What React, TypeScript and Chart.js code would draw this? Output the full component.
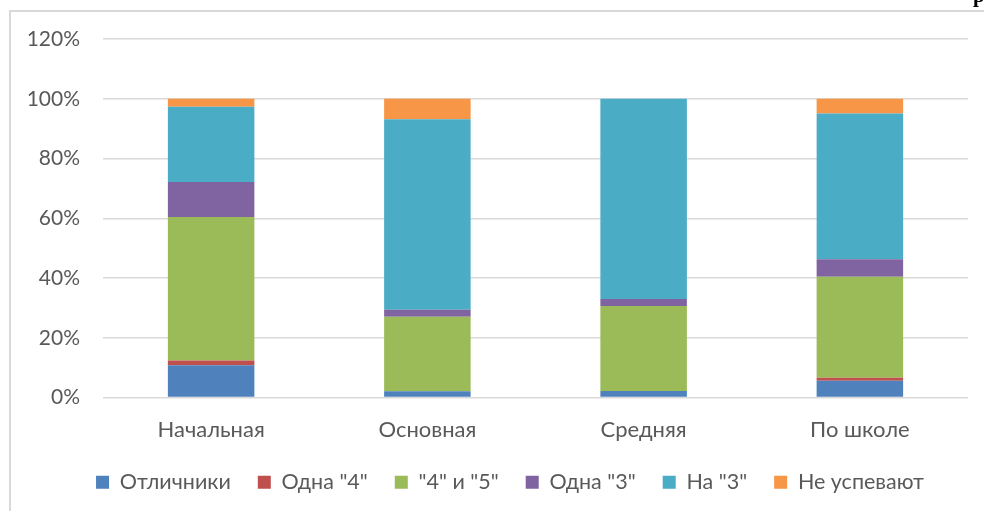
import React, { useEffect, useRef } from "react";
import { Chart, registerables } from "chart.js";

Chart.register(...registerables);

const categories = ["Начальная", "Основная", "Средняя", "По школе"];
const seriesNames = ["Отличники", "Одна \"4\"", "\"4\" и \"5\"", "Одна \"3\"", "На \"3\"", "Не успевают"];
const excellent = [10.8, 2.1, 2.2, 5.6];
const oneFour = [1.6, 0, 0, 1.0];
const fourFive = [48.0, 24.9, 28.4, 33.8];
const oneThree = [11.7, 2.4, 2.4, 5.9];
const onlyThree = [25.2, 63.7, 67.0, 48.8];
const failing = [2.7, 6.9, 0, 4.9];
const seriesColors = ["#4F81BD", "#C0504D", "#9BBB59", "#8064A2", "#4BACC6", "#F79646"];
const yTicks = [0, 20, 40, 60, 80, 100, 120];

const legendShift = {
  id: "legendShift",
  afterLayout(chart: any) {
    if (chart.legend) {
      chart.legend.left += 21;
      chart.legend.right += 21;
    }
  },
};

export default function App() {
  const ref = useRef<HTMLCanvasElement | null>(null);
  useEffect(() => {
    if (!ref.current) return;
    const values = [excellent, oneFour, fourFive, oneThree, onlyThree, failing];
    const chart = new Chart(ref.current, {
      type: "bar",
      data: {
        labels: categories,
        datasets: values.map((d, i) => ({
          label: seriesNames[i],
          data: d,
          backgroundColor: seriesColors[i],
          borderWidth: 0,
          categoryPercentage: 1,
          barPercentage: 0.4,
        })),
      },
      plugins: [legendShift],
      options: {
        animation: false,
        responsive: false,
        maintainAspectRatio: false,
        layout: { padding: { left: 10, right: 16, top: 39, bottom: 8 } },
        plugins: {
          tooltip: { enabled: false },
          legend: {
            position: "bottom",
            labels: {
              boxWidth: 13,
              boxHeight: 13,
              padding: 27,
              color: "#595959",
              font: { family: "Lato", size: 21.5 },
            },
          },
        },
        scales: {
          x: {
            stacked: true,
            grid: { display: false, drawTicks: false },
            border: { display: false },
            ticks: { color: "#595959", font: { family: "Lato", size: 22 }, padding: 19 },
            afterFit: (axis: any) => {
              axis.height = 47;
            },
          },
          y: {
            stacked: true,
            min: yTicks[0],
            max: yTicks[yTicks.length - 1],
            afterBuildTicks: (axis: any) => {
              axis.ticks = yTicks.map((v) => ({ value: v }));
            },
            afterFit: (axis: any) => {
              axis.width = 93;
            },
            grid: { color: "#D9D9D9", lineWidth: 1.5, drawTicks: false },
            border: { display: false },
            ticks: {
              color: "#595959",
              font: { family: "Lato", size: 21 },
              padding: 23,
              callback: (v: any) => v + "%",
            },
          },
        },
      },
    });
    return () => chart.destroy();
  }, []);
  return (
    <div style={{ position: "fixed", left: 0, top: 0, width: 984, height: 511, background: "#fff", overflow: "hidden" }}>
      <div
        style={{
          position: "absolute",
          left: 9,
          top: 10,
          width: 1000,
          height: 600,
          borderLeft: "2px solid #D9D9D9",
          borderTop: "2px solid #D9D9D9",
        }}
      />
      <canvas ref={ref} width={984} height={511} style={{ position: "absolute", left: 0, top: 0 }} />
      <span
        style={{
          position: "absolute",
          left: 973,
          top: -15,
          fontFamily: "Liberation Serif",
          fontWeight: "bold",
          fontSize: 21,
          color: "#000",
          lineHeight: "21px",
        }}
      >
        р
      </span>
    </div>
  );
}
